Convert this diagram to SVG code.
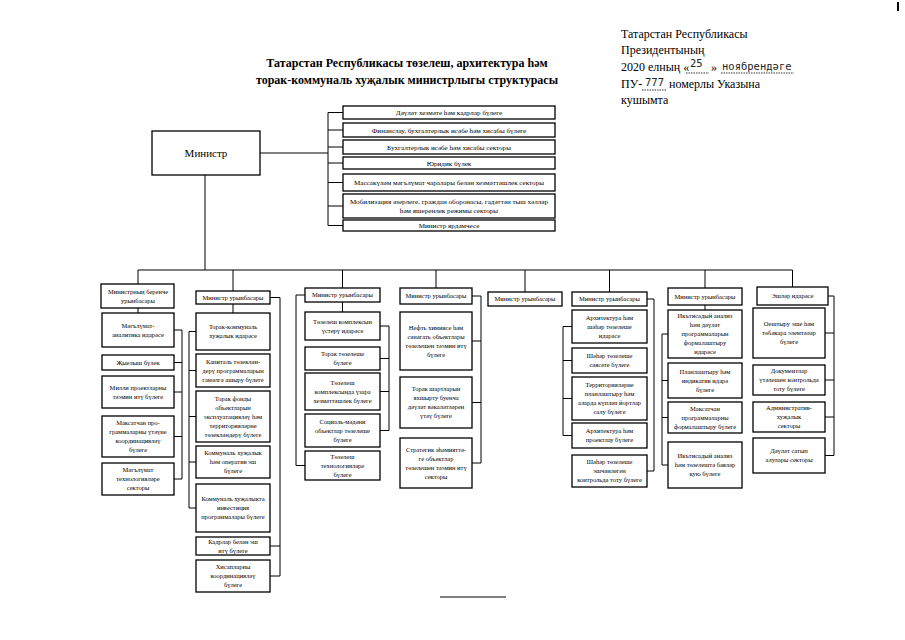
<svg xmlns="http://www.w3.org/2000/svg" width="905" height="640" viewBox="0 0 905 640">
<style>
.b{fill:#fff;stroke:#000;stroke-width:1.3}
.t{font-family:"Liberation Serif","Times New Roman",serif;font-size:6.5px;text-anchor:middle;fill:#000}
.r{font-size:7.1px}
.c{stroke:#000;stroke-width:1;fill:none}
.h{font-family:"Liberation Serif","Times New Roman",serif;font-size:12px;fill:#000}
.hw{font-family:"DejaVu Sans Mono",monospace;font-size:10.5px;fill:#222}
.ttl{font-family:"Liberation Serif","Times New Roman",serif;font-size:12px;font-weight:bold;text-anchor:middle;fill:#000}
.u{stroke:#000;stroke-width:0.8;stroke-dasharray:1.5 1}
</style>
<rect width="905" height="640" fill="#fff"/>
<rect x="897" y="2" width="2" height="9" fill="#000"/>
<g id="title">
<text class="ttl" x="407" y="67">Татарстан Республикасы төзелеш, архитектура һәм</text>
<text class="ttl" x="407" y="84">торак-коммуналь хуҗалык министрлыгы структурасы</text>
</g>
<g id="annex">
<text class="h" x="621" y="38">Татарстан Республикасы</text>
<text class="h" x="621" y="54">Президентының</text>
<text class="h" x="621" y="71">2020 елның «</text>
<text class="hw" x="690" y="67">25</text>
<line class="u" x1="686" y1="73" x2="709" y2="73"/>
<text class="h" x="711" y="71">»</text>
<text class="hw" x="722" y="70">ноябрендәге</text>
<line class="u" x1="721" y1="73" x2="794" y2="73"/>
<text class="h" x="621" y="88">ПУ-</text>
<text class="hw" x="645" y="86">777</text>
<line class="u" x1="642" y1="90" x2="667" y2="90"/>
<text class="h" x="669" y="88">номерлы Указына</text>
<text class="h" x="621" y="104">кушымта</text>
</g>
<g id="connectors">
<path class="c" d="M260 153 H328 M328 112.5 V225.5 M328 112.5 H343 M328 130 H343 M328 147 H343 M328 163 H343 M328 182.5 H343 M328 206 H343 M328 225.5 H343"/>
<path class="c" d="M205 175 V270 M138 270 H792.5"/>
<path class="c" d="M138 270 V284 M138 308 V313 M174 330 H182 V479 H174 M174 362.5 H182 M174 392 H182 M174 436.5 H182"/>
<path class="c" d="M233 270 V291 M233 304 V313 M196 331.5 H189 V508 H196 M189 370.5 H196 M189 416.5 H196 M189 462 H196 M270 297.5 H280 V576 H270 M280 546 H270"/>
<path class="c" d="M342.5 270 V288 M342.5 302 V312 M305 295 H296 V465.5 H305 M380 326 H389 V430.5 H380 M380 358.5 H389 M380 391.5 H389"/>
<path class="c" d="M436 270 V288 M472 296 H481 V463 H472 M481 341 H472 M481 402.5 H472"/>
<path class="c" d="M525 270 V292"/>
<path class="c" d="M609.5 270 V292 M647 299 H654 V471 H647 M572 326.5 H563 V435.5 H572 M563 360.5 H572 M563 398.5 H572"/>
<path class="c" d="M705 270 V288 M705 305 V310 M668 334 H662 V465 H668 M662 380.5 H668 M662 417.5 H668"/>
<path class="c" d="M792.5 270 V287 M828 296 H834 V455.5 H825 M834 333 H825 M834 380 H825 M834 417 H825"/>
</g>
<g id="minister">
<rect class="b" x="152" y="131" width="108" height="44"/>
<text x="206" y="157" style="font-family:'Liberation Serif',serif;font-size:11px;text-anchor:middle">Министр</text>
</g>
<g id="r1"><rect class="b" x="343" y="106" width="212" height="13"/><text class="t r" x="449" y="115">Дәүләт хезмәте һәм кадрлар бүлеге</text></g>
<g id="r2"><rect class="b" x="343" y="123" width="212" height="14"/><text class="t r" x="449" y="132.5">Финанслау, бухгалтерлык исәбе һәм хисабы бүлеге</text></g>
<g id="r3"><rect class="b" x="343" y="140" width="212" height="14"/><text class="t r" x="449" y="149.5">Бухгалтерлык исәбе һәм хисабы секторы</text></g>
<g id="r4"><rect class="b" x="343" y="157" width="212" height="12"/><text class="t r" x="449" y="165.5">Юридик бүлек</text></g>
<g id="r5"><rect class="b" x="343" y="174" width="212" height="17"/><text class="t r" x="449" y="185">Массакүләм мәгълүмат чаралары белән хезмәттәшлек секторы</text></g>
<g id="r6"><rect class="b" x="343" y="194" width="212" height="24"/><text class="t r" x="449" y="204">Мобилизация әзерлеге, граждан оборонасы, гадәттән тыш хәлләр<tspan x="449" y="213">һәм яшеренлек режимы секторы</tspan></text></g>
<g id="r7"><rect class="b" x="343" y="220" width="212" height="11"/><text class="t r" x="449" y="228">Министр ярдәмчесе</text></g>

<g id="c1h"><rect class="b" x="101" y="284" width="73" height="24"/><text class="t" x="138" y="293.8">Министрның беренче<tspan x="138" y="302.8">урынбасары</tspan></text></g>
<g id="c1b1"><rect class="b" x="102" y="313" width="72" height="34"/><text class="t" x="138" y="327.8">Мәгълүмат-<tspan x="138" y="336.8">аналитика идарәсе</tspan></text></g>
<g id="c1b2"><rect class="b" x="102" y="355" width="72" height="15"/><text class="t" x="138" y="364.8">Җыелыш бүлек</text></g>
<g id="c1b3"><rect class="b" x="102" y="376" width="72" height="32"/><text class="t" x="138" y="389.8">Милли проектларны<tspan x="138" y="398.8">тәэмин итү бүлеге</tspan></text></g>
<g id="c1b4"><rect class="b" x="102" y="416" width="72" height="41"/><text class="t" x="138" y="425.3">Максатчан про-<tspan x="138" y="434.3">граммаларны үтәүне</tspan><tspan x="138" y="443.3">координацияләү</tspan><tspan x="138" y="452.3">бүлеге</tspan></text></g>
<g id="c1b5"><rect class="b" x="102" y="463" width="72" height="32"/><text class="t" x="138" y="472.3">Мәгълүмат<tspan x="138" y="481.3">технологияләре</tspan><tspan x="138" y="490.3">секторы</tspan></text></g>

<g id="c2h"><rect class="b" x="196" y="291" width="74" height="13"/><text class="t" x="233" y="299.8">Министр урынбасары</text></g>
<g id="c2b1"><rect class="b" x="196" y="313" width="74" height="37"/><text class="t" x="233" y="329.3">Торак-коммуналь<tspan x="233" y="338.3">хуҗалык идарәсе</tspan></text></g>
<g id="c2b2"><rect class="b" x="196" y="354" width="74" height="33"/><text class="t" x="233" y="363.8">Капиталь төзеклән-<tspan x="233" y="372.8">дерү программаларын</tspan><tspan x="233" y="381.8">гамәлгә ашыру бүлеге</tspan></text></g>
<g id="c2b3"><rect class="b" x="196" y="391" width="74" height="51"/><text class="t" x="233" y="400.8">Торак фонды<tspan x="233" y="409.8">объектларын</tspan><tspan x="233" y="418.8">эксплуатацияләү һәм</tspan><tspan x="233" y="427.8">территорияләрне</tspan><tspan x="233" y="436.8">төзекләндерү бүлеге</tspan></text></g>
<g id="c2b4"><rect class="b" x="196" y="446" width="74" height="32"/><text class="t" x="233" y="455.3">Коммуналь хуҗалык<tspan x="233" y="464.3">һәм оператив эш</tspan><tspan x="233" y="473.3">бүлеге</tspan></text></g>
<g id="c2b5"><rect class="b" x="196" y="484" width="74" height="48"/><text class="t" x="233" y="501.3">Коммуналь хуҗалыкта<tspan x="233" y="510.3">инвестиция</tspan><tspan x="233" y="519.3">программалары бүлеге</tspan></text></g>
<g id="c2b6"><rect class="b" x="196" y="537" width="74" height="18"/><text class="t" x="233" y="543.8">Кадрлар белән эш<tspan x="233" y="552.8">итү бүлеге</tspan></text></g>
<g id="c2b7"><rect class="b" x="196" y="560" width="74" height="32"/><text class="t" x="233" y="569.3">Хисапларны<tspan x="233" y="578.3">координацияләү</tspan><tspan x="233" y="587.3">бүлеге</tspan></text></g>

<g id="c3h"><rect class="b" x="305" y="288" width="75" height="14"/><text class="t" x="342.5" y="297.3">Министр урынбасары</text></g>
<g id="c3b1"><rect class="b" x="305" y="312" width="75" height="28"/><text class="t" x="342.5" y="323.8">Төзелеш комплексын<tspan x="342.5" y="332.8">үстерү идарәсе</tspan></text></g>
<g id="c3b2"><rect class="b" x="305" y="347" width="75" height="23"/><text class="t" x="342.5" y="356.3">Торак төзелеше<tspan x="342.5" y="365.3">бүлеге</tspan></text></g>
<g id="c3b3"><rect class="b" x="305" y="373" width="75" height="37"/><text class="t" x="342.5" y="384.8">Төзелеш<tspan x="342.5" y="393.8">комплексында үзара</tspan><tspan x="342.5" y="402.8">хезмәттәшлек бүлеге</tspan></text></g>
<g id="c3b4"><rect class="b" x="305" y="414" width="75" height="33"/><text class="t" x="342.5" y="423.8">Социаль-мәдәни<tspan x="342.5" y="432.8">объектлар төзелеше</tspan><tspan x="342.5" y="441.8">бүлеге</tspan></text></g>
<g id="c3b5"><rect class="b" x="305" y="451" width="75" height="29"/><text class="t" x="342.5" y="458.8">Төзелеш<tspan x="342.5" y="467.8">технологияләре</tspan><tspan x="342.5" y="476.8">бүлеге</tspan></text></g>

<g id="c4h"><rect class="b" x="400" y="288" width="72" height="16"/><text class="t" x="436" y="298.3">Министр урынбасары</text></g>
<g id="c4b1"><rect class="b" x="400" y="312" width="72" height="58"/><text class="t" x="436" y="329.8">Нефть химиясе һәм<tspan x="436" y="338.8">сәнәгать объектлары</tspan><tspan x="436" y="347.8">төзелешен тәэмин итү</tspan><tspan x="436" y="356.8">бүлеге</tspan></text></g>
<g id="c4b2"><rect class="b" x="400" y="377" width="72" height="51"/><text class="t" x="436" y="391.3">Торак шартларын<tspan x="436" y="400.3">яхшырту буенча</tspan><tspan x="436" y="409.3">дәүләт вәкаләтләрен</tspan><tspan x="436" y="418.3">үтәү бүлеге</tspan></text></g>
<g id="c4b3"><rect class="b" x="400" y="438" width="72" height="50"/><text class="t" x="436" y="451.8">Стратегик әһәмияттә-<tspan x="436" y="460.8">ге объектлар</tspan><tspan x="436" y="469.8">төзелешен тәэмин итү</tspan><tspan x="436" y="478.8">секторы</tspan></text></g>

<g id="c5h"><rect class="b" x="488" y="292" width="74" height="14"/><text class="t" x="525" y="301.3">Министр урынбасары</text></g>

<g id="c6h"><rect class="b" x="572" y="292" width="75" height="14"/><text class="t" x="609.5" y="301.3">Министр урынбасары</text></g>
<g id="c6b1"><rect class="b" x="572" y="310" width="75" height="33"/><text class="t" x="609.5" y="319.8">Архитектура һәм<tspan x="609.5" y="328.8">шәһәр төзелеше</tspan><tspan x="609.5" y="337.8">идарәсе</tspan></text></g>
<g id="c6b2"><rect class="b" x="572" y="348" width="75" height="25"/><text class="t" x="609.5" y="358.3">Шәһәр төзелеше<tspan x="609.5" y="367.3">сәясәте бүлеге</tspan></text></g>
<g id="c6b3"><rect class="b" x="572" y="377" width="75" height="43"/><text class="t" x="609.5" y="387.3">Территорияләрне<tspan x="609.5" y="396.3">планлаштыру һәм</tspan><tspan x="609.5" y="405.3">аларда күпләп йортлар</tspan><tspan x="609.5" y="414.3">салу бүлеге</tspan></text></g>
<g id="c6b4"><rect class="b" x="572" y="423" width="75" height="25"/><text class="t" x="609.5" y="433.3">Архитектура һәм<tspan x="609.5" y="442.3">проектлау бүлеге</tspan></text></g>
<g id="c6b5"><rect class="b" x="572" y="455" width="75" height="32"/><text class="t" x="609.5" y="464.3">Шәһәр төзелеше<tspan x="609.5" y="473.3">эшчәнлеген</tspan><tspan x="609.5" y="482.3">контрольдә тоту бүлеге</tspan></text></g>

<g id="c7h"><rect class="b" x="668" y="288" width="74" height="17"/><text class="t" x="705" y="298.8">Министр урынбасары</text></g>
<g id="c7b1"><rect class="b" x="668" y="310" width="74" height="48"/><text class="t" x="705" y="318.3">Икътисадый анализ<tspan x="705" y="327.3">һәм дәүләт</tspan><tspan x="705" y="336.3">программаларын</tspan><tspan x="705" y="345.3">формалаштыру</tspan><tspan x="705" y="354.3">идарәсе</tspan></text></g>
<g id="c7b2"><rect class="b" x="668" y="363" width="74" height="35"/><text class="t" x="705" y="373.8">Планлаштыру һәм<tspan x="705" y="382.8">индикатив идарә</tspan><tspan x="705" y="391.8">бүлеге</tspan></text></g>
<g id="c7b3"><rect class="b" x="668" y="402" width="74" height="31"/><text class="t" x="705" y="410.8">Максатчан<tspan x="705" y="419.8">программаларны</tspan><tspan x="705" y="428.8">формалаштыру бүлеге</tspan></text></g>
<g id="c7b4"><rect class="b" x="668" y="442" width="74" height="46"/><text class="t" x="705" y="458.3">Икътисадый анализ<tspan x="705" y="467.3">һәм төзелештә бәяләр</tspan><tspan x="705" y="476.3">кую бүлеге</tspan></text></g>

<g id="c8h"><rect class="b" x="757" y="287" width="71" height="18"/><text class="t" x="792.5" y="298.3">Эшләр идарәсе</text></g>
<g id="c8b1"><rect class="b" x="753" y="308" width="72" height="50"/><text class="t" x="789" y="326.3">Оештыру эше һәм<tspan x="789" y="335.3">төбәкара элемтәләр</tspan><tspan x="789" y="344.3">бүлеге</tspan></text></g>
<g id="c8b2"><rect class="b" x="753" y="365" width="72" height="30"/><text class="t" x="789" y="373.3">Документлар<tspan x="789" y="382.3">үтәлешен контрольдә</tspan><tspan x="789" y="391.3">тоту бүлеге</tspan></text></g>
<g id="c8b3"><rect class="b" x="753" y="402" width="72" height="30"/><text class="t" x="789" y="410.3">Административ-<tspan x="789" y="419.3">хуҗалык</tspan><tspan x="789" y="428.3">секторы</tspan></text></g>
<g id="c8b4"><rect class="b" x="753" y="438" width="72" height="35"/><text class="t" x="789" y="453.3">Дәүләт сатып<tspan x="789" y="462.3">алулары секторы</tspan></text></g>
<line x1="440" y1="597" x2="506" y2="597" stroke="#000" stroke-width="1"/>
</svg>
